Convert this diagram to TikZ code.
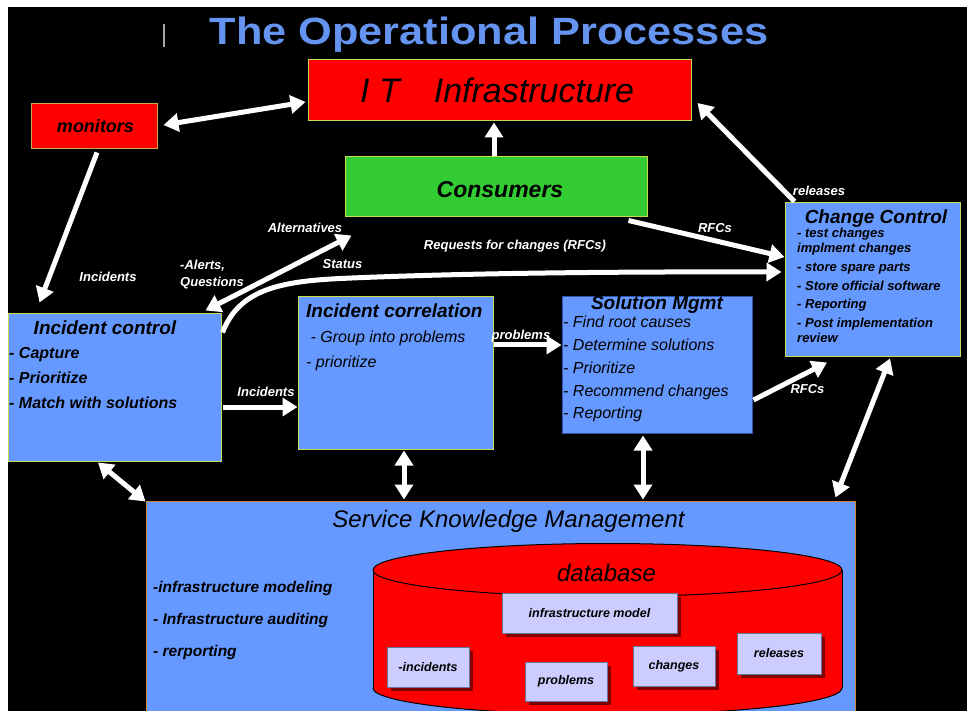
\documentclass[tikz,border=0pt]{standalone}
\usepackage{fontspec}
\setmainfont{Liberation Sans}
\usepackage{graphicx}
\usetikzlibrary{arrows.meta,calc,shadows}
\definecolor{boxblue}{HTML}{6699FF}
\definecolor{titleblue}{HTML}{6593F0}
\definecolor{itred}{HTML}{FF0000}
\definecolor{congreen}{HTML}{33CC33}
\definecolor{lav}{HTML}{CCCCFF}
\definecolor{shad}{HTML}{800000}
\definecolor{edgey}{HTML}{C8DC50}
\definecolor{edgeo}{HTML}{CC8833}
\definecolor{edgeb}{HTML}{3355AA}
\definecolor{lavedge}{HTML}{667799}
\newcommand{\fsz}[1]{\fontsize{#1}{#1}\selectfont}
\tikzset{
  box/.style={draw=edgey, line width=1pt, inner sep=0pt},
  bluebox/.style={box, fill=boxblue},
  lab/.style={text=white, font=\bfseries\itshape\fsz{13}, inner sep=0pt, anchor=base},
  btitle/.style={font=\bfseries\itshape\fsz{19}, inner sep=0pt, anchor=base},
  bitem/.style={font=\bfseries\itshape\fsz{16}, inner sep=0pt, anchor=base west},
  ritem/.style={font=\itshape\fsz{16}, inner sep=0pt, anchor=base west},
  citem/.style={font=\bfseries\itshape\fsz{13}, inner sep=0pt, anchor=base west},
  kitem/.style={font=\bfseries\itshape\fsz{15.5}, inner sep=0pt, anchor=base west},
  dbbox/.style={draw=lavedge, line width=0.8pt, fill=lav, inner sep=0pt,
     font=\bfseries\itshape\fsz{12.5},
     drop shadow={shadow xshift=4pt, shadow yshift=-4pt, fill=shad, opacity=1}},
  warr/.style={draw=white, line width=5pt, -{Triangle[length=15pt,width=18pt]}},
  wdarr/.style={draw=white, line width=5pt, {Triangle[length=15pt,width=18pt]}-{Triangle[length=15pt,width=18pt]}}
}
\begin{document}
\begin{tikzpicture}[x=1pt,y=-1pt]
\useasboundingbox (0,0) rectangle (967,711);
\clip (0,0) rectangle (967,711);
\fill[white] (0,0) rectangle (967,711);
\fill[black] (8,7) rectangle (967,711);
\draw[gray!70, line width=1.2pt] (164,24) -- (164,47);

% title
\node[anchor=base, inner sep=0pt, text=titleblue] (title) at (489,45)
  {\scalebox{1.14}[1]{\bfseries\fsz{38}The Operational Processes}};

% boxes
\node[box, fill=itred, minimum width=383, minimum height=61] (it) at (499.5,90.5) {};
\node[box, draw=edgeo!60!edgey, fill=itred, minimum width=126, minimum height=45] (mon) at (94,126.5) {};
\node[box, fill=congreen, minimum width=302, minimum height=60] (con) at (496,187) {};
\node[bluebox, minimum width=175, minimum height=154] (cc) at (872.5,280) {};
\node[bluebox, minimum width=213, minimum height=147] (ic) at (114.5,387.5) {};
\node[bluebox, minimum width=195, minimum height=152] (icor) at (395.5,373) {};
\node[bluebox, draw=edgeb, minimum width=190, minimum height=136] (sm) at (657,365) {};
\node[bluebox, draw=edgeo, minimum width=709, minimum height=216] (skm) at (500.5,609) {};

% box texts
\node[anchor=base west, inner sep=0pt, font=\itshape\fsz{34}] (ittxt) at (360,103) {I T\hspace{34pt}Infrastructure};
\node[anchor=base, inner sep=0pt, font=\bfseries\itshape\fsz{18}] (montxt) at (95.5,133) {monitors};
\node[anchor=base, inner sep=0pt, font=\bfseries\itshape\fsz{23}] (contxt) at (500,198) {Consumers};

\node[btitle] (cct) at (876,224) {Change Control};
\node[citem] (cc1) at (797,238) {- test changes};
\node[citem] (cc2) at (797,252.5) {implment changes};
\node[citem] (cc3) at (797,271.5) {- store spare parts};
\node[citem] (cc4) at (797,290.5) {- Store official software};
\node[citem] (cc5) at (797,309) {- Reporting};
\node[citem] (cc6) at (797,327.5) {- Post implementation};
\node[citem] (cc7) at (797,342.5) {review};

\node[btitle] (ict) at (105,335) {Incident control};
\node[bitem] (ic1) at (9,359) {- Capture};
\node[bitem] (ic2) at (9,384) {- Prioritize};
\node[bitem] (ic3) at (9,408) {- Match with solutions};

\node[btitle, anchor=base west] (icort) at (306,318) {Incident correlation};
\node[ritem] (icor1) at (310.5,343) {- Group into problems};
\node[ritem] (icor2) at (306,367) {- prioritize};

\node[btitle] (smt) at (657,310) {Solution Mgmt};
\node[ritem] (sm1) at (563,328) {- Find root causes};
\node[ritem] (sm2) at (563,351) {- Determine solutions};
\node[ritem] (sm3) at (563,373.5) {- Prioritize};
\node[ritem] (sm4) at (563,396) {- Recommend changes};
\node[ritem] (sm5) at (563,418.5) {- Reporting};

\node[anchor=base, inner sep=0pt, font=\itshape\fsz{24}] (skmt) at (508.5,527) {Service Knowledge Management};
\node[kitem] (k1) at (153,592.5) {-infrastructure modeling};
\node[kitem] (k2) at (153,624) {- Infrastructure auditing};
\node[kitem] (k3) at (153,656.5) {- rerporting};

% database cylinder
\fill[itred] (373,570) rectangle (842,688);
\fill[itred] (607.5,688) ellipse [x radius=234.5, y radius=26.5];
\begin{scope}
  \clip (300,688) rectangle (900,760);
  \draw[black, line width=1pt] (607.5,688) ellipse [x radius=234.5, y radius=26.5];
\end{scope}
\draw[black, line width=1pt] (373,570) -- (373,688) (842,570) -- (842,688);
\filldraw[fill=itred, draw=black, line width=1pt] (607.5,570) ellipse [x radius=234.5, y radius=26.5];
\node[anchor=base, inner sep=0pt, font=\itshape\fsz{24}] (dbt) at (606.5,581.5) {database};

\node[dbbox, minimum width=175, minimum height=40] (dbim) at (589.5,613) {infrastructure model};
\node[dbbox, minimum width=82, minimum height=40] (dbinc) at (428,667) {-incidents};
\node[dbbox, minimum width=82, minimum height=39] (dbprob) at (566,681.5) {problems};
\node[dbbox, minimum width=82, minimum height=40] (dbch) at (674,666) {changes};
\node[dbbox, minimum width=84, minimum height=41] (dbrel) at (779,653.5) {releases};

% arrows
\draw[wdarr] ($(mon.east)+(6,-1.5)$) -- ($(it.west)+(-2,11.5)$);
\draw[warr] ($(mon.south)+(3,3)$) -- ($(ic.north west)+(32,-11)$);
\draw[warr] ($(con.north)+(-2,0)$) -- ($(it.south)+(-5.5,1)$);
\draw[warr] ($(cc.north west)+(10,-1)$) -- ($(it.east)+(6,12.5)$);
\draw[warr] ($(con.south east)+(-19,3)$) -- ($(cc.west)+(0,-23)$);
\draw[wdarr] ($(ic.north east)+(-16,-3)$) -- ($(con.south west)+(7,18)$);
\draw[warr] ($(ic.north east)+(1,19)$) .. controls ($(ic.north east)+(17,-22)$) and ($(ic.north east)+(54,-32)$) .. ($(ic.north east)+(119,-35)$)
   .. controls ($(ic.north east)+(229,-40)$) and ($(ic.north east)+(379,-42)$) .. ($(cc.west)+(-3,-8)$);
\draw[warr] ($(ic.east)+(1,19.5)$) -- ($(icor.west)+(0,34)$);
\draw[warr] ($(icor.east)+(0,-28)$) -- ($(sm.west)+(0,-20)$);
\draw[warr] ($(sm.east)+(1,35)$) -- ($(cc.south)+(-45.5,5)$);
\draw[wdarr] ($(cc.south)+(17.5,1)$) -- ($(skm.north east)+(-20,-3)$);
\draw[wdarr] ($(sm.south)+(-14,2)$) -- ($(skm.north)+(142.5,-1)$);
\draw[wdarr] ($(icor.south)+(8.5,1)$) -- ($(skm.north)+(-96.5,-1)$);
\draw[wdarr] ($(ic.south)+(-16.5,1)$) -- ($(skm.north west)+(0,1)$);

% labels
\node[lab] (l1) at (108,282) {Incidents};
\node[lab, anchor=base west] (l2) at (180,270) {-Alerts,};
\node[lab, anchor=base west] (l3) at (180,287) {Questions};
\node[lab] (l4) at (305,233) {Alternatives};
\node[lab] (l5) at (342.5,269) {Status};
\node[lab] (l6) at (515,250) {Requests for changes (RFCs)};
\node[lab] (l7) at (715,233) {RFCs};
\node[lab] (l8) at (819,196) {releases};
\node[lab] (l9) at (266,396.5) {Incidents};
\node[lab] (l10) at (521,340) {problems};
\node[lab] (l11) at (807.5,394) {RFCs};
\end{tikzpicture}
\end{document}
